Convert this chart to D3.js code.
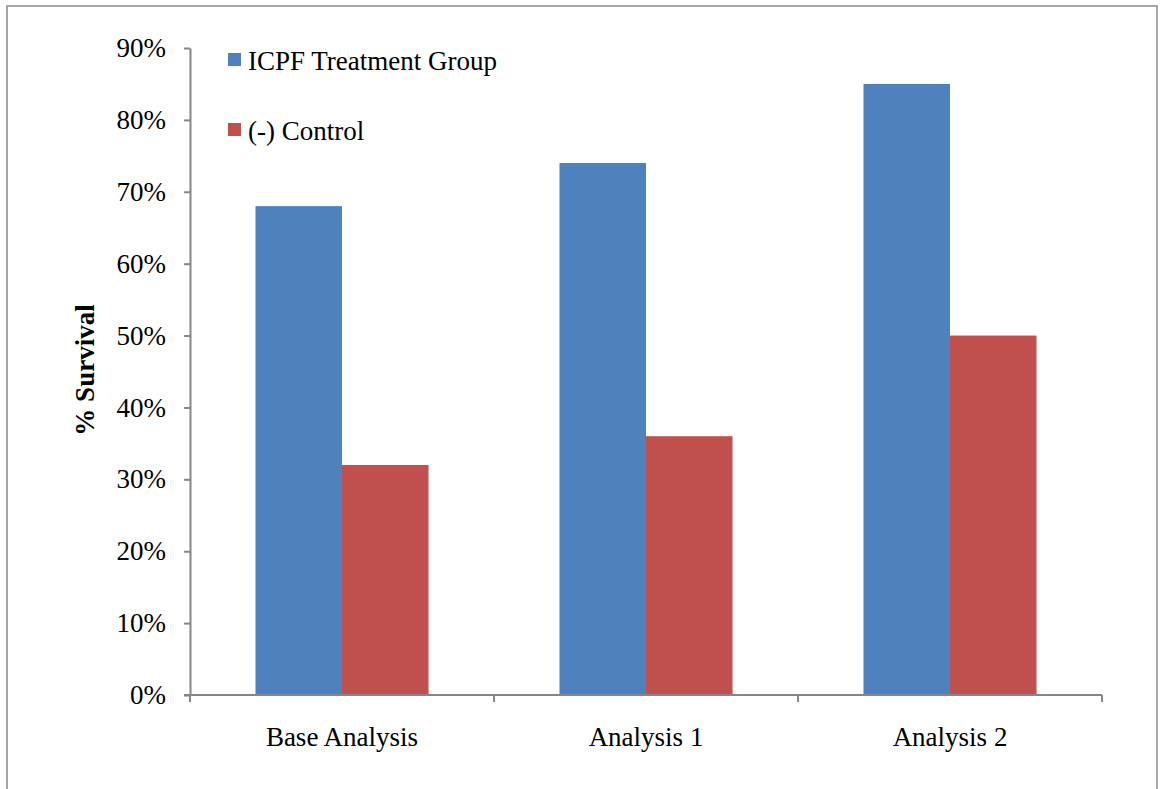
<!DOCTYPE html>
<html>
<head>
<meta charset="UTF-8">
<title>Survival chart</title>
<script src="https://cdn.jsdelivr.net/npm/d3@7"></script>
<style>
  body { margin: 0; background: #fff; }
  svg text { font-family: "Liberation Serif", "Times New Roman", serif; fill: #000; }
</style>
</head>
<body>
<script>
// data
var categories = ["Base Analysis", "Analysis 1", "Analysis 2"];
var seriesNames = ["ICPF Treatment Group", "(-) Control"];
var treatment = [68, 74, 85];
var control = [32, 36, 50];
var yTicks = [0, 10, 20, 30, 40, 50, 60, 70, 80, 90];

var colors = ["#4F81BD", "#C0504D"];
var values = [treatment, control];

var width = 1160, height = 789;
var plotLeft = 190, plotRight = 1102, plotTop = 48, plotBottom = 695;
var fontSize = 27;

var svg = d3.select("body").append("svg")
    .attr("width", width)
    .attr("height", height);

// outer frame
svg.append("rect")
    .attr("x", 7).attr("y", 6)
    .attr("width", 1150).attr("height", 800)
    .attr("fill", "none")
    .attr("stroke", "#a6a6a6")
    .attr("stroke-width", 2);

var x0 = d3.scaleBand().domain(categories).range([plotLeft, plotRight]).padding(0);
var x1 = d3.scaleBand().domain(seriesNames).range([0, x0.bandwidth()])
    .paddingInner(0).paddingOuter(0.757);
var y = d3.scaleLinear().domain([0, 90]).range([plotBottom, plotTop]);

// bars
var groups = svg.selectAll("g.cat")
    .data(categories)
    .enter().append("g")
    .attr("class", "cat")
    .attr("transform", function (d) { return "translate(" + x0(d) + ",0)"; });

groups.selectAll("rect")
    .data(function (d, i) {
        return seriesNames.map(function (s, j) { return { s: s, v: values[j][i], c: colors[j] }; });
    })
    .enter().append("rect")
    .attr("x", function (d) { return x1(d.s); })
    .attr("y", function (d) { return y(d.v); })
    .attr("width", x1.bandwidth())
    .attr("height", function (d) { return plotBottom - y(d.v); })
    .attr("fill", function (d) { return d.c; });

// y axis
var yAxis = svg.append("g")
    .attr("transform", "translate(" + plotLeft + ",0)")
    .call(d3.axisLeft(y).tickValues(yTicks).tickSizeInner(6).tickSizeOuter(0).tickPadding(18)
        .tickFormat(function (d) { return d + "%"; }));
yAxis.select(".domain").attr("stroke", "#868686").attr("stroke-width", 2);
yAxis.selectAll(".tick line").attr("stroke", "#868686").attr("stroke-width", 2);
yAxis.selectAll(".tick text")
    .attr("font-size", fontSize)
    .attr("font-family", "Liberation Serif")
    .attr("fill", "#000");

// x axis with ticks at group boundaries
var xAxis = svg.append("g")
    .attr("transform", "translate(0," + plotBottom + ")");
xAxis.append("line")
    .attr("x1", plotLeft - 6).attr("x2", plotRight)
    .attr("stroke", "#868686").attr("stroke-width", 2);
var bounds = categories.map(function (c) { return x0(c); }).concat([plotRight]);
xAxis.selectAll("line.tk")
    .data(bounds)
    .enter().append("line")
    .attr("class", "tk")
    .attr("x1", function (d) { return d; }).attr("x2", function (d) { return d; })
    .attr("y1", 0).attr("y2", 7)
    .attr("stroke", "#868686").attr("stroke-width", 2);
xAxis.selectAll("text")
    .data(categories)
    .enter().append("text")
    .attr("x", function (d) { return x0(d) + x0.bandwidth() / 2; })
    .attr("y", 51)
    .attr("text-anchor", "middle")
    .attr("font-size", fontSize)
    .text(function (d) { return d; });

// y label
svg.append("text")
    .attr("transform", "translate(94,370) rotate(-90)")
    .attr("text-anchor", "middle")
    .attr("font-size", fontSize)
    .attr("font-weight", "bold")
    .text("% Survival");

// legend
var legend = svg.selectAll("g.leg")
    .data(seriesNames)
    .enter().append("g")
    .attr("class", "leg")
    .attr("transform", function (d, i) { return "translate(228," + (53 + i * 70) + ")"; });
legend.append("rect")
    .attr("width", 13).attr("height", 13)
    .attr("fill", function (d, i) { return colors[i]; });
legend.append("text")
    .attr("x", 20).attr("y", 17)
    .attr("font-size", fontSize)
    .text(function (d) { return d; });
</script>
</body>
</html>
